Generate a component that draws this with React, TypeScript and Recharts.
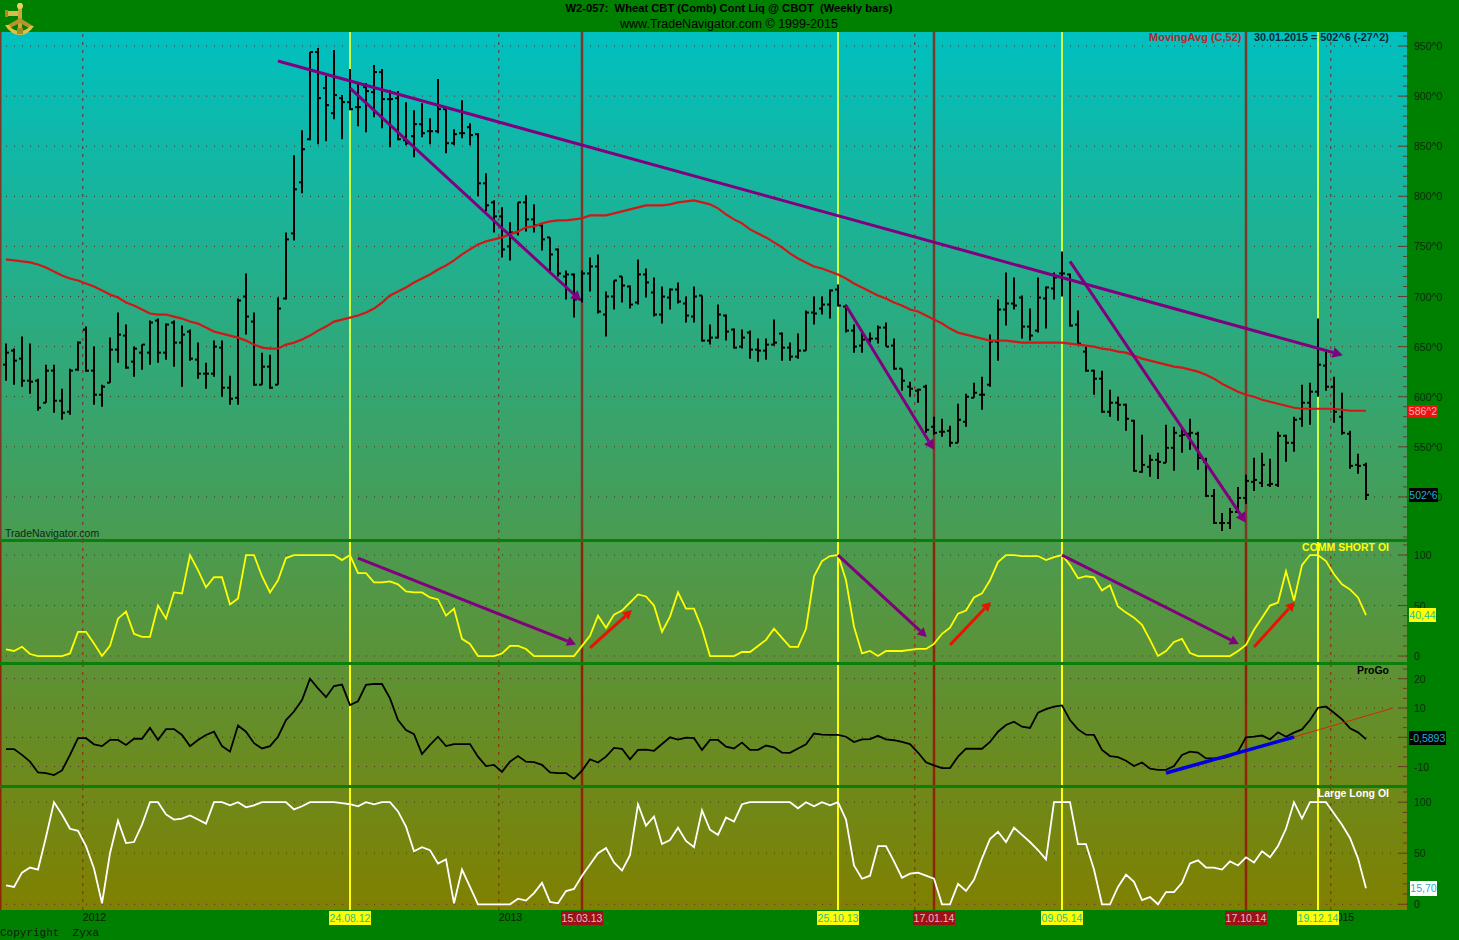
import { Bar, ComposedChart, Line, ReferenceLine, XAxis, YAxis } from "recharts";

const highs = [653,648,660,653,618,632,632,608,628,655,670,650,612,659,684,672,650,652,676,678,673,676,671,667,654,634,656,656,621,698,723,684,644,642,699,764,841,866,944,948,920,946,901,927,914,913,931,927,906,905,894,886,893,878,917,887,867,896,873,863,823,796,789,774,794,801,792,772,759,748,726,723,726,739,742,705,716,720,711,737,728,719,710,708,714,700,710,701,672,692,682,668,667,666,658,658,677,664,654,663,686,700,700,707,712,692,672,665,664,671,674,658,628,615,608,612,580,578,571,593,603,614,620,662,697,724,719,701,688,719,710,724,745,723,686,650,627,626,607,600,593,577,562,542,544,572,570,568,578,565,539,508,484,489,510,522,539,544,538,565,562,580,612,614,678,645,620,604,566,543,534];
const lows = [616,612,610,603,586,594,584,577,582,626,625,592,590,614,634,628,620,627,632,634,637,630,610,636,618,608,620,600,592,592,662,611,612,608,612,697,756,803,856,852,855,877,857,886,870,864,879,868,849,856,851,839,859,852,863,843,851,858,851,800,785,764,739,736,761,765,764,746,723,720,697,679,694,705,683,660,687,694,688,692,699,680,673,687,693,674,674,655,652,658,656,648,648,638,635,637,651,636,636,638,646,672,682,678,690,664,644,644,654,653,650,627,606,600,594,564,562,560,550,554,570,599,587,610,636,671,687,658,656,664,668,697,700,670,652,625,602,584,580,576,566,525,524,520,518,534,526,544,547,527,500,473,466,468,484,493,506,510,510,510,535,545,570,572,600,606,574,562,528,523,497];
const opens = [632,646,638,616,616,594,626,596,585,627,667,626,602,614,647,661,635,644,644,676,644,674,654,665,637,623,623,649,609,599,700,675,612,630,612,698,763,814,857,944,908,883,898,894,889,909,904,924,897,898,856,860,872,865,865,887,853,863,869,862,813,794,780,750,764,794,777,771,759,747,720,722,697,723,730,682,700,720,710,694,722,704,682,699,707,693,680,701,656,659,681,667,650,664,647,646,652,663,649,640,646,684,688,692,707,690,666,651,657,658,669,651,628,610,606,610,570,565,566,554,575,599,602,612,655,687,693,699,670,666,698,708,723,722,672,645,626,618,585,594,592,576,525,530,537,534,549,561,563,563,535,501,474,474,485,499,515,514,512,512,561,554,578,594,605,631,610,580,563,532,532];
const closes = [644,636,616,615,589,626,596,584,626,654,626,602,610,647,662,629,648,652,674,644,672,654,662,638,623,623,650,609,598,696,680,612,630,609,688,757,807,847,944,898,891,901,894,887,889,905,924,897,897,857,853,872,863,865,887,853,862,863,861,813,791,780,747,764,794,777,771,757,742,723,722,697,723,730,685,700,716,711,692,722,714,682,700,707,695,681,700,656,659,682,665,649,659,647,646,652,654,649,640,646,684,683,692,706,691,666,650,657,658,669,650,628,616,608,607,567,564,565,554,577,600,604,602,655,687,693,691,670,661,699,709,719,723,671,653,626,618,585,594,592,578,526,532,537,535,549,564,562,564,539,501,474,474,485,499,516,517,532,513,561,554,577,594,605,632,610,585,564,531,531,502];
const movingAvg = [737,736,735,734,732,729,725,721,718,716,713,710,706,702,699,694,691,687,683,682,682,680,678,675,673,669,665,663,661,659,656,652,649,648,648,652,654,657,661,666,670,675,677,679,681,684,688,694,701,705,709,714,718,722,727,731,736,742,747,752,755,757,759,762,765,769,770,773,775,776,776,777,778,781,781,781,783,785,787,789,791,791,791,792,794,795,796,794,792,788,782,777,773,767,763,759,754,749,743,738,734,730,728,725,722,718,713,709,705,701,698,694,691,687,685,681,677,673,668,664,662,660,658,656,656,656,655,654,654,654,654,654,654,653,652,651,650,648,647,645,644,641,638,636,634,632,630,629,627,625,622,618,613,609,605,602,600,597,595,593,591,589,588,588,588,588,588,587,586,586,586];
const commShort = [6.6,5,9.2,2,0,0,0,0,2.6,24,24,12.5,0,10,37,44,22,19,19,50,37,63,62,100,85,68,78,78,51,57,100,100,79,63,75,97,100,100,100,100,100,100,95,100,82,82,73,73,74,71,64,63,63,58,56,40,47,17,12,0,0,0,2.6,10,10,7,0,0,0,0,0,0,10,20,40,28,41,45,53,61,59,50,24,39,63,47,47,27,0,0,0,0,4,4,10,16,27,18,9,9,27,79,94,99,100,75,29,2.6,5,0,5,5,5,6,7,7,12,22,28,42,45,58,62,75,93,100,100,99,99,99,95,98,100,90,77,79,78,65,70,49,43,38,31,16,0,5,14,17,3,0,0,0,0,0,5,11,26,38,50,53,84,55,90,100,100,94,81,71,66,58,40.4];
const proGo = [-4,-4,-6,-8.3,-12,-12.2,-12.9,-11.3,-6,-0.3,-0.3,-2.4,-3,-0.9,-0.9,-2.6,-0.5,-0.5,3.2,-0.9,2.8,2.8,0.8,-3,-0.9,0.8,1.9,-3,-4.9,4,1.9,-2,-3.8,-3,0.2,5.9,8.8,12.7,20,16.7,13.7,17.5,18,11,12.3,17.9,18.2,18.2,13.3,5.9,2.5,1.1,-5.7,-2.6,0.2,-3,-2.3,-2.3,-2.3,-6.6,-9.8,-9.4,-11.8,-8.3,-6.4,-8.3,-8.5,-9.4,-12,-12.2,-12.2,-14.2,-11.4,-7.5,-8.6,-6.6,-3.6,-3.9,-7.5,-4.3,-4.2,-4.6,-2.3,0,-0.8,-0.1,-0.3,-4.3,-0.9,-0.9,-3.2,-3.8,-1.8,-4.3,-4.3,-2.8,-3.4,-5.2,-5.3,-3.8,-2.4,1.3,0.9,0.8,0.8,0.2,-1.6,-0.7,-0.6,0.5,-0.7,-1,-1.6,-2.3,-5.2,-8.5,-9.6,-10.5,-10.5,-6.6,-3.9,-3.9,-3.9,-1.6,1.9,4.2,5.3,3.6,3.2,8.4,9.6,10.5,10.9,5.9,2.7,0.9,0.8,-4.3,-6.4,-6.8,-8,-9.8,-8.6,-10.7,-11.1,-11.1,-9.8,-6,-4.9,-5.2,-7.2,-7.2,-7.2,-6.4,-4.9,0,0.2,0.6,-0.7,1.7,0.2,1.6,2.7,5.9,10.1,10.5,8.4,6.1,3.1,1.7,-0.6];
const largeLong = [18.6,17,31,36,34,66,100,88,74,72,57,35,1,50,82,60,61,78,100,100,88,83,84,87,83,79,100,100,97,100,95,97,100,100,100,100,93,96,100,100,100,100,99,98,96,100,98,100,100,91,76,52,56,53,40,44,1,34,17,0,0,0,0,0,5.5,3.6,11,21,2.3,1,13,15,28,39,50,55,41,33,48,98,77,86,59,63,75,62,56,92,73,68,85,81,98,100,100,100,100,100,100,94,100,96,100,97,100,83,38,25,28,57,57,42,26,30,31,28,25,0,0,20,13,24,45,64,71,61,75,68,61,53,44,100,100,100,59,59,34,0,0,17,29,22,4,7,0,12,12,21,40,43,36,36,34,42,38,46,41,52,46,57,74,100,84,100,100,100,89,78,65,45,15.7];

const bars = highs.map((high, i) => ({
  i,
  high,
  low: lows[i],
  open: opens[i],
  close: closes[i],
  ma: movingAvg[i],
  comm: commShort[i],
  progo: proGo[i],
  large: largeLong[i],
}));

const yellowDates = [43, 104, 132, 164];
const redDates = [72, 116, 155];
const yearLines = [9.6, 61.6, 113.6, 165.6];
const yearLabels = ["2012", "2013", "", "2015"];
const dateTags = [
  { i: 43, label: "24.08.12", red: false },
  { i: 72, label: "15.03.13", red: true },
  { i: 104, label: "25.10.13", red: false },
  { i: 116, label: "17.01.14", red: true },
  { i: 132, label: "09.05.14", red: false },
  { i: 155, label: "17.10.14", red: true },
  { i: 164, label: "19.12.14", red: false },
];

const priceTicks = [460,470,480,490,500,510,520,530,540,550,560,570,580,590,600,610,620,630,640,650,660,670,680,690,700,710,720,730,740,750,760,770,780,790,800,810,820,830,840,850,860,870,880,890,900,910,920,930,940,950,960];
const priceMajors = [500,550,600,650,700,750,800,850,900,950];
const pctTicks = [0,10,20,30,40,50,60,70,80,90,100,110];
const pctMajors = [0,50,100];
const progoTicks = [-13.3,-10,-6.7,-3.3,0,3.3,6.7,10,13.3,16.7,20,23.3];
const progoMajors = [-10,0,10,20];

const X_DOMAIN = [-0.75, 175.125];
const WIDTH = 1459;
const AXIS_W = 52;
const FONT = '"Liberation Sans", Arial, sans-serif';
const GREEN = "#008000";
const PURPLE = "#800080";
const margin = { top: 0, right: 0, bottom: 0, left: 0 };

function axisTick(majors: number[], format: (v: number) => string | null) {
  return ({ y, payload }: any) => {
    const v = payload.value;
    const major = majors.includes(v);
    const text = major ? format(v) : null;
    return (
      <g>
        <line x1={1407 - (major ? 8 : 4)} x2={1407} y1={y} y2={y} stroke="#6b3a20" strokeWidth={1} />
        {text && (
          <text x={1414} y={y + 4} fontFamily={FONT} fontSize={10.5} fill="#0a2a0a">
            {text}
          </text>
        )}
      </g>
    );
  };
}

function arrowShape(head: number) {
  return ({ x1, y1, x2, y2, stroke, strokeWidth }: any) => {
    const a = Math.atan2(y2 - y1, x2 - x1);
    const bx = x2 - Math.cos(a) * head;
    const by = y2 - Math.sin(a) * head;
    const w = head * 0.55;
    const pts = `${x2},${y2} ${bx - Math.sin(a) * w},${by + Math.cos(a) * w} ${bx + Math.sin(a) * w},${by - Math.cos(a) * w}`;
    return (
      <g>
        <line x1={x1} y1={y1} x2={bx} y2={by} stroke={stroke} strokeWidth={strokeWidth} />
        {head > 0 && <polygon points={pts} fill={stroke} />}
      </g>
    );
  };
}

// open tick on the left, close tick on the right
const OhlcBar = ({ x, y, width, height, payload }: any) => {
  const cx = x + width / 2;
  const perUnit = height / (payload.high - payload.low);
  const openY = y + (payload.high - payload.open) * perUnit;
  const closeY = y + (payload.high - payload.close) * perUnit;
  return (
    <g stroke="#000" strokeWidth={2}>
      <line x1={cx} x2={cx} y1={y} y2={y + height} />
      <line x1={cx - 3} x2={cx} y1={openY} y2={openY} />
      <line x1={cx} x2={cx + 3} y1={closeY} y2={closeY} />
    </g>
  );
};

// the chart sits at y=787, tags live below its plot area
const DateTick = ({ x, index }: any) => {
  if (index < yearLines.length) {
    return (
      <text x={x} y={134} fontFamily={FONT} fontSize={10.5} fill="#0a1a0a">
        {yearLabels[index]}
      </text>
    );
  }
  const tag = dateTags[index - yearLines.length];
  return (
    <g>
      <rect x={x - 21} y={124} width={42} height={14} fill={tag.red ? "#a01018" : "#ffff00"} />
      <text x={x} y={134.5} textAnchor="middle" fontFamily={FONT} fontSize={10.5} fill={tag.red ? "#d8c0c0" : "#28c090"}>
        {tag.label}
      </text>
    </g>
  );
};

function guides(gridValues: number[], yellow: string, red: string, year: string) {
  return [
    ...gridValues.map((v) => (
      <ReferenceLine key={`g${v}`} y={v} stroke="#4a3020" strokeDasharray="1 7" zIndex={-60} />
    )),
    ...yearLines.map((v) => (
      <ReferenceLine key={`y${v}`} x={v} stroke={year} strokeDasharray="3 5" zIndex={-50} />
    )),
    <ReferenceLine key="edge" x={-0.75} stroke={red} strokeWidth={3} zIndex={-50} />,
    ...redDates.map((v) => <ReferenceLine key={`r${v}`} x={v} stroke={red} strokeWidth={2.5} zIndex={-50} />),
    ...yellowDates.map((v) => <ReferenceLine key={`w${v}`} x={v} stroke={yellow} strokeWidth={2} zIndex={-50} />),
  ];
}

function trend(key: string, x1: number, y1: number, x2: number, y2: number, stroke: string, width: number, head: number) {
  return (
    <ReferenceLine
      key={key}
      segment={[{ x: x1, y: y1 }, { x: x2, y: y2 }]}
      stroke={stroke}
      strokeWidth={width}
      shape={arrowShape(head)}
      zIndex={1000}
    />
  );
}

const Txt = ({ x, y, right, center, size = 11, bold, color = "#000", mono, children }: any) => (
  <div
    style={{
      position: "absolute",
      left: center ? x - 300 : right ? x - 300 : x,
      width: center || right ? (center ? 600 : 300) : undefined,
      top: y,
      textAlign: center ? "center" : right ? "right" : "left",
      fontFamily: mono ? '"Liberation Mono", monospace' : FONT,
      fontSize: size,
      fontWeight: bold ? 700 : 400,
      color,
      lineHeight: 1,
      whiteSpace: "pre",
    }}
  >
    {children}
  </div>
);

const Tag = ({ x, y, w, h, bg, color, children }: any) => (
  <div
    style={{
      position: "absolute",
      left: x,
      top: y,
      width: w,
      height: h,
      background: bg,
      color,
      fontFamily: FONT,
      fontSize: 10.5,
      lineHeight: `${h}px`,
      textAlign: "center",
      whiteSpace: "pre",
    }}
  >
    {children}
  </div>
);

// sextant badge
const Logo = () => (
  <svg width={40} height={40} style={{ position: "absolute", left: 0, top: 0 }}>
    <rect x={5} y={11} width={15} height={5} fill="#d8bc48" />
    <rect x={5} y={10} width={3} height={7} fill="#a88a20" />
    <rect x={18} y={3} width={4} height={26} fill="#c8a838" />
    <circle cx={20} cy={6} r={3} fill="#e8d060" />
    <path d="M20 18 L6 26 L8 29 L20 23 L31 29 L33 26 Z" fill="#b89428" />
    <path d="M5 25 Q11 35 20 35 Q28 35 34 26 L30 26 Q26 31 20 31 Q13 31 9 25 Z" fill="#e0c040" />
    <rect x={17} y={28} width={6} height={6} fill="#a88a20" />
  </svg>
);

export default function App() {
  return (
    <div style={{ position: "absolute", left: 0, top: 0, width: WIDTH, height: 940, background: GREEN, overflow: "hidden" }}>
      <div
        style={{
          position: "absolute",
          left: 0,
          top: 32,
          width: 1407,
          height: 878,
          background: "linear-gradient(180deg, #00c0c0 0%, #808000 100%)",
        }}
      />

      {/* price panel */}
      <div style={{ position: "absolute", left: 0, top: 32 }}>
        <ComposedChart width={WIDTH} height={509} data={bars} margin={margin}>
          <XAxis dataKey="i" type="number" domain={X_DOMAIN} hide />
          <YAxis
            orientation="right"
            width={AXIS_W}
            domain={[456, 964]}
            ticks={priceTicks}
            interval={0}
            axisLine={false}
            tickLine={false}
            tick={axisTick(priceMajors, (v) => `${v}^0`)}
          />
          {guides(priceMajors, "#ccff44", "#7a3a2a", "#6e2a30")}
          <Bar dataKey={(d: any) => [d.low, d.high]} barSize={2} shape={OhlcBar} isAnimationActive={false} />
          <Line dataKey="ma" stroke="#d01818" strokeWidth={2.2} dot={false} isAnimationActive={false} />
          {trend("t1", 34, 935, 167.1, 641.5, PURPLE, 3, 10)}
          {trend("t2", 43, 908, 71.9, 695.5, PURPLE, 3, 10)}
          {trend("t3", 105, 691, 116, 547, PURPLE, 3, 10)}
          {trend("t4", 133, 735, 155, 474.3, PURPLE, 3, 10)}
        </ComposedChart>
      </div>

      {/* COMM SHORT OI */}
      <div style={{ position: "absolute", left: 0, top: 541 }}>
        <ComposedChart width={WIDTH} height={122} data={bars} margin={margin}>
          <XAxis dataKey="i" type="number" domain={X_DOMAIN} hide />
          <YAxis
            orientation="right"
            width={AXIS_W}
            domain={[-6.9, 113.9]}
            ticks={pctTicks}
            interval={0}
            axisLine={false}
            tickLine={false}
            tick={axisTick(pctMajors, (v) => `${v}`)}
          />
          {guides(pctMajors, "#ffff00", "#8f2408", "#8f2408")}
          <Line dataKey="comm" stroke="#ffff00" strokeWidth={1.8} dot={false} isAnimationActive={false} />
          {trend("c1", 44, 97, 71.25, 11.4, PURPLE, 3, 9)}
          {trend("c2", 104, 100, 115.1, 18.8, PURPLE, 3, 9)}
          {trend("c3", 132, 100, 154.1, 11.9, PURPLE, 3, 9)}
          {trend("r1", 73, 8, 78.25, 45.5, "#e81400", 3, 9)}
          {trend("r2", 118, 11, 123.1, 53.5, "#e81400", 3, 9)}
          {trend("r3", 156, 9, 161.1, 53.5, "#e81400", 3, 9)}
        </ComposedChart>
      </div>

      {/* ProGo */}
      <div style={{ position: "absolute", left: 0, top: 663 }}>
        <ComposedChart width={WIDTH} height={124} data={bars} margin={margin}>
          <XAxis dataKey="i" type="number" domain={X_DOMAIN} hide />
          <YAxis
            orientation="right"
            width={AXIS_W}
            domain={[-16.96, 25.36]}
            ticks={progoTicks}
            interval={0}
            axisLine={false}
            tickLine={false}
            tick={axisTick(progoMajors, (v) => (v === 0 ? null : `${v}`))}
          />
          {guides(progoMajors, "#ffff00", "#8f2408", "#8f2408")}
          <Line dataKey="progo" stroke="#000" strokeWidth={1.8} dot={false} isAnimationActive={false} />
          {trend("p1", 161, 0.1, 173.4, 10, "#c83000", 1, 0)}
          {trend("p2", 145, -12.2, 161, 0.1, "#0000e0", 3.5, 0)}
        </ComposedChart>
      </div>

      {/* Large Long OI, carries the date axis */}
      <div style={{ position: "absolute", left: 0, top: 787 }}>
        <ComposedChart width={WIDTH} height={153} data={bars} margin={margin}>
          <XAxis
            dataKey="i"
            type="number"
            domain={X_DOMAIN}
            height={30}
            axisLine={false}
            tickLine={false}
            interval={0}
            ticks={[...yearLines, ...dateTags.map((t) => t.i)]}
            tick={(p: any) => <DateTick {...p} />}
          />
          <YAxis
            orientation="right"
            width={AXIS_W}
            domain={[-5.6, 114.9]}
            ticks={pctTicks}
            interval={0}
            axisLine={false}
            tickLine={false}
            tick={axisTick(pctMajors, (v) => `${v}`)}
          />
          {guides(pctMajors, "#ffff00", "#8f2408", "#8f2408")}
          <Line dataKey="large" stroke="#fff" strokeWidth={1.8} dot={false} isAnimationActive={false} />
        </ComposedChart>
      </div>

      {[540.5, 663.5, 786.5].map((y) => (
        <div key={y} style={{ position: "absolute", left: 0, top: y - 1.5, width: 1407, height: 3, background: "#0a800a" }} />
      ))}

      <Logo />
      <Txt x={729} y={3} center bold size={11.2}>{"W2-057:  Wheat CBT (Comb) Cont Liq @ CBOT  (Weekly bars)"}</Txt>
      <Txt x={729} y={18} center size={12.5}>{"www.TradeNavigator.com © 1999-2015"}</Txt>
      <Txt x={1149} y={32} bold size={11} color="#b02830">MovingAvg (C,52)</Txt>
      <Txt x={1254} y={32} bold size={10.8} color="#0a2a30">{"30.01.2015 = 502^6 (-27^2)"}</Txt>
      <Txt x={5} y={528} size={10.5} color="#0a2a10">TradeNavigator.com</Txt>
      <Txt x={1389} y={542} right bold size={10.5} color="#ffff00">COMM SHORT OI</Txt>
      <Txt x={1389} y={665} right bold size={10.5} color="#000">ProGo</Txt>
      <Txt x={1389} y={788} right bold size={10.5} color="#fff">Large Long OI</Txt>
      <Txt x={0} y={928} mono size={11} color="#0a1a0a">{"Copyright  Zyxa"}</Txt>

      <Tag x={1408} y={405} w={30} h={13} bg="#f01010" color="#f0b0b0">586^2</Tag>
      <Tag x={1409} y={488} w={29} h={14} bg="#000" color="#20b0d0">502^6</Tag>
      <Tag x={1409} y={608} w={27} h={14} bg="#ffff00" color="#28c090">40,44</Tag>
      <Tag x={1409} y={731} w={37} h={14} bg="#000" color="#20b0d0">-0,5893</Tag>
      <Tag x={1410} y={881} w={27} h={15} bg="#fff" color="#20b0d0">15,70</Tag>
    </div>
  );
}
